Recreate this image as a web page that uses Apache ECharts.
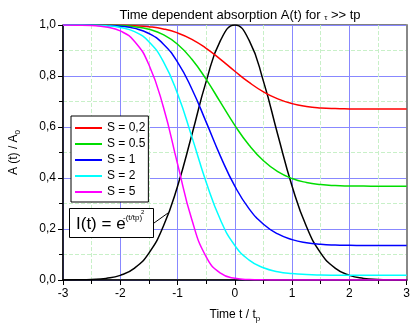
<!DOCTYPE html>
<html>
<head>
<meta charset="utf-8">
<script src="https://cdn.jsdelivr.net/npm/echarts@6/dist/echarts.min.js"></script>
<style>
  html, body { margin: 0; padding: 0; background: #fff; }
  #chart { width: 413px; height: 328px; }
</style>
</head>
<body>
<div id="chart"></div>
<script>
// time axis t / tp
const times = [-3, -2.75, -2.5, -2.25, -2, -1.75, -1.5, -1.25, -1, -0.75, -0.5, -0.25, 0,
  0.25, 0.5, 0.75, 1, 1.25, 1.5, 1.75, 2, 2.25, 2.5, 2.75, 3]

// absorption A(t)/A0 for each S
const s02 = [1, 1, 1, 0.9997, 0.9991, 0.9973, 0.9932, 0.9847, 0.969, 0.9439, 0.9086, 0.8652, 0.8187,
  0.7747, 0.7378, 0.7102, 0.6917, 0.6808, 0.6749, 0.6721, 0.671, 0.6705, 0.6703, 0.6703, 0.6703]
const s05 = [1, 1, 0.9998, 0.9993, 0.9977, 0.9934, 0.9832, 0.9622, 0.9244, 0.8655, 0.7868, 0.6964, 0.6065,
  0.5283, 0.4675, 0.425, 0.398, 0.3824, 0.3742, 0.3703, 0.3688, 0.3682, 0.368, 0.3679, 0.3679]
const s1 = [1, 0.9999, 0.9996, 0.9985, 0.9953, 0.9868, 0.9667, 0.9258, 0.8545, 0.7492, 0.6191, 0.485, 0.3679,
  0.2791, 0.2186, 0.1806, 0.1584, 0.1462, 0.14, 0.1371, 0.136, 0.1355, 0.1354, 0.1353, 0.1353]
const s2 = [1, 0.9998, 0.9992, 0.997, 0.9906, 0.9738, 0.9344, 0.8571, 0.7301, 0.5613, 0.3833, 0.2352, 0.1353,
  0.0779, 0.0478, 0.0326, 0.0251, 0.0214, 0.0196, 0.0188, 0.0185, 0.0184, 0.0183, 0.0183, 0.0183]
const s5 = [0.9999, 0.9995, 0.998, 0.9925, 0.9768, 0.9357, 0.8441, 0.6801, 0.4554, 0.236, 0.0909, 0.0268, 0.0067,
  0.0017, 0.0005, 0.0002, 0.0001, 0, 0, 0, 0, 0, 0, 0, 0]
// pulse I(t)
const pulse = [0.0001, 0.0005, 0.0019, 0.0063, 0.0183, 0.0468, 0.1054, 0.2096, 0.3679, 0.5698, 0.7788, 0.9394, 1,
  0.9394, 0.7788, 0.5698, 0.3679, 0.2096, 0.1054, 0.0468, 0.0183, 0.0063, 0.0019, 0.0005, 0.0001]

const names = ['S = 0,2', 'S = 0.5', 'S = 1', 'S = 2', 'S = 5']
const colors = ['#ff0000', '#00dd00', '#0000ff', '#00ffff', '#ff00ff']
const allS = [s02, s05, s1, s2, s5]

const font = 'Liberation Sans, Arial, sans-serif'
const pairs = arr => times.map((t, i) => [t, arr[i]])

const chart = echarts.init(document.getElementById('chart'))

const seriesArr = allS.map((arr, i) => ({
  name: names[i],
  type: 'line',
  data: pairs(arr),
  smooth: true,
  symbol: 'none',
  lineStyle: { color: colors[i], width: 1.5 },
  itemStyle: { color: colors[i] },
  z: 3
}))
seriesArr.push({
  name: 'pulse',
  type: 'line',
  data: pairs(pulse),
  smooth: true,
  symbol: 'none',
  lineStyle: { color: '#000', width: 1.5 },
  z: 2
})

const option = {
  animation: false,
  backgroundColor: '#fff',
  textStyle: { fontFamily: font },
  title: {
    text: 'Time dependent absorption A(t) for {s|τ} >> tp',
    left: 235,
    textAlign: 'center',
    top: 4,
    textStyle: {
      fontFamily: font, fontSize: 13, fontWeight: 'normal', color: '#000',
      rich: { s: { fontFamily: font, fontSize: 8, color: '#000', padding: [4, 0, 0, 0] } }
    }
  },
  grid: {
    left: 61, right: 5, top: 25, bottom: 44,
    show: true, borderColor: '#000', borderWidth: 1
  },
  legend: {
    data: names,
    orient: 'vertical',
    left: 71, top: 116,
    icon: 'rect',
    itemWidth: 27, itemHeight: 2, itemGap: 4,
    padding: [6, 3, 4, 4],
    borderColor: '#000', borderWidth: 1, backgroundColor: '#fff',
    textStyle: { fontFamily: font, fontSize: 12, color: '#000', lineHeight: 11 }
  },
  xAxis: {
    type: 'value',
    min: -3, max: 3, interval: 1,
    name: 'Time t / t{sub|p}',
    nameLocation: 'middle',
    nameGap: 27,
    nameTextStyle: {
      fontFamily: font, fontSize: 12, color: '#000',
      rich: { sub: { fontFamily: font, fontSize: 8, color: '#000', padding: [8, 0, 0, 0] } }
    },
    axisLine: { onZero: false, lineStyle: { color: '#000', width: 1.5 } },
    axisTick: { length: 5, lineStyle: { color: '#000' } },
    minorTick: { show: true, splitNumber: 2, length: 4, lineStyle: { color: '#000' } },
    axisLabel: { color: '#000', fontSize: 12, margin: 8 },
    splitLine: { lineStyle: { color: '#8888ff', width: 1 } },
    minorSplitLine: { show: true, lineStyle: { color: '#c8f0c8', type: 'dashed' } }
  },
  yAxis: [{
    type: 'value',
    min: 0, max: 1, interval: 0.2,
    name: 'A (t) / A{sub|0}',
    nameLocation: 'middle',
    nameGap: 41,
    nameTextStyle: {
      fontFamily: font, fontSize: 12, color: '#000',
      rich: { sub: { fontFamily: font, fontSize: 8, color: '#000', padding: [8, 0, 0, 0] } }
    },
    axisLine: { show: true, onZero: false, lineStyle: { color: '#000', width: 1.5 } },
    axisTick: { show: true, length: 5, lineStyle: { color: '#000' } },
    minorTick: { show: true, splitNumber: 2, length: 4, lineStyle: { color: '#000' } },
    axisLabel: {
      color: '#000', fontSize: 12, margin: 7,
      formatter: v => v.toFixed(1).replace('.', ',')
    },
    splitLine: { lineStyle: { color: '#8888ff', width: 1 } },
    minorSplitLine: { show: true, lineStyle: { color: '#c8f0c8', type: 'dashed' } }
  }, {
    type: 'value',
    position: 'right',
    min: 0, max: 1,
    axisLine: { show: true, onZero: false, lineStyle: { color: '#888', width: 2 } },
    axisTick: { show: false },
    axisLabel: { show: false },
    splitLine: { show: false }
  }],
  series: seriesArr,
  graphic: [
    { type: 'line', shape: { x1: 154, y1: 223, x2: 168, y2: 213 }, style: { stroke: '#000', lineWidth: 1 }, z: 100 },
    { type: 'rect', shape: { x: 69.5, y: 208.5, width: 84, height: 29 }, style: { fill: '#fff', stroke: '#000', lineWidth: 1 }, z: 100 },
    { type: 'text', x: 76, y: 224, style: { text: 'I(t) = e', font: '17px ' + font, fill: '#000', textVerticalAlign: 'middle' }, z: 101 },
    { type: 'text', x: 123, y: 218, style: { text: '-(t/tp)', font: '8px ' + font, fill: '#000', textVerticalAlign: 'middle' }, z: 101 },
    { type: 'text', x: 141, y: 212, style: { text: '2', font: '6px ' + font, fill: '#000', textVerticalAlign: 'middle' }, z: 101 }
  ]
}

chart.setOption(option)
</script>
</body>
</html>
